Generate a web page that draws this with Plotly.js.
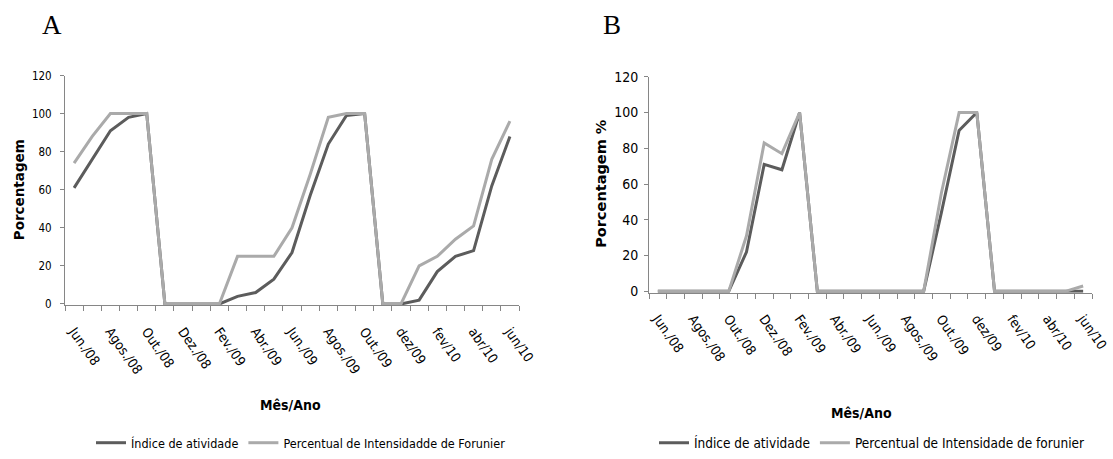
<!DOCTYPE html>
<html>
<head>
<meta charset="utf-8">
<script src="https://cdn.plot.ly/plotly-3.0.1.min.js"></script>
<style>
html,body{margin:0;padding:0;background:#fff;}
#chart{width:1113px;height:459px;}
</style>
</head>
<body>
<div id="chart"></div>
<script>
// Categories: months Jun/2008 .. Jun/2010
const months = ['Jun./08','Jul./08','Agos./08','Set./08','Out./08','Nov./08','Dez./08','Jan./09',
  'Fev./09','Mar./09','Abr./09','Mai./09','Jun./09','Jul./09','Agos./09','Set./09','Out./09',
  'Nov./09','dez/09','jan/10','fev/10','mar/10','abr/10','mai/10','jun/10'];

// Tick labels (every second month shown)
const tickTextA = ['Jun./08','','Agos./08','','Out./08','','Dez./08','','Fev./09','','Abr./09','',
  'Jun./09','','Agos./09','','Out./09','','dez/09','','fev/10','','abr/10','','jun/10'];
const tickTextB = ['Jun./08','','Agos./08','','Out./08','','Dez./08','','Fev./09','','Abr./09','',
  'Jun./09','','Agos./09','','Out./09','','dez/09','','fev/10','','abr/10','','jun/10'];

// Panel A values
const indiceA = [61,76,91,98,100,0,0,0,0,4,6,13,27,57,84,99,100,0,0,2,17,25,28,62,88];
const fournierA = [74,88,100,100,100,0,0,0,0,25,25,25,40,68,98,100,100,0,0,20,25,34,41,76,96];

// Panel B values
const indiceB = [0,0,0,0,0,22,71,68,100,0,0,0,0,0,0,0,44,90,100,0,0,0,0,0,0];
const fournierB = [0,0,0,0,0,31,83,77,100,0,0,0,0,0,0,0,55,100,100,0,0,0,0,0,3];

const nameIndice = 'Índice de atividade';
const nameFournierA = 'Percentual de Intensidadde de Forunier';
const nameFournierB = 'Percentual de Intensidade de forunier';

const DARK = '#5c5c5c', LIGHT = '#aaaaaa', AXIS = '#868686';
const NARROW = '"DejaVu Sans Condensed", "Liberation Sans Narrow", sans-serif';
const BOLD = '"DejaVu Sans", sans-serif';
const W = 1113, H = 459;
const px = v => v / W;
const py = v => (H - v) / H;

const traces = [
  {x: months, y: indiceA, name: nameIndice, type: 'scatter', mode: 'lines',
   line: {color: DARK, width: 3}, xaxis: 'x', yaxis: 'y', legend: 'legend'},
  {x: months, y: fournierA, name: nameFournierA, type: 'scatter', mode: 'lines',
   line: {color: LIGHT, width: 3}, xaxis: 'x', yaxis: 'y', legend: 'legend'},
  {x: months, y: indiceB, name: nameIndice, type: 'scatter', mode: 'lines',
   line: {color: DARK, width: 3}, xaxis: 'x2', yaxis: 'y2', legend: 'legend2'},
  {x: months, y: fournierB, name: nameFournierB, type: 'scatter', mode: 'lines',
   line: {color: LIGHT, width: 3}, xaxis: 'x2', yaxis: 'y2', legend: 'legend2'}
];

function xAxis(domain, anchor, ticktext, size) {
  return {
    domain: domain, anchor: anchor,
    type: 'category', categoryorder: 'array', categoryarray: months,
    range: [-0.5, 24.5], tickmode: 'array', tickvals: months, ticktext: ticktext,
    tickson: 'boundaries', ticks: 'outside', ticklen: 5, tickcolor: AXIS, tickwidth: 1,
    showline: true, linecolor: AXIS, linewidth: 1, showgrid: false, zeroline: false,
    tickangle: 55, ticklabelstandoff: 12,
    tickfont: {family: NARROW, size: size, color: '#000'}, fixedrange: true
  };
}
function yAxis(domain, anchor, size, standoff) {
  return {
    domain: domain, anchor: anchor, range: [-0.8, 120], tickmode: 'linear', tick0: 0, dtick: 20,
    ticks: 'outside', ticklen: 4, tickcolor: AXIS, tickwidth: 1,
    showline: true, linecolor: AXIS, linewidth: 1, showgrid: false, zeroline: false,
    tickfont: {family: NARROW, size: size, color: '#000'}, fixedrange: true, ticklabelstandoff: standoff
  };
}

const layout = {
  width: W, height: H, margin: {l: 0, r: 0, t: 0, b: 0},
  paper_bgcolor: '#fff', plot_bgcolor: '#fff', showlegend: true,
  xaxis: xAxis([px(65), px(519)], 'y', tickTextA, 13.5),
  yaxis: yAxis([py(307.5), py(76)], 'x', 11.5, 6),
  xaxis2: xAxis([px(649), px(1092)], 'y2', tickTextB, 13.5),
  yaxis2: yAxis([py(294.7), py(77.3)], 'x2', 14, 3),
  legend: {orientation: 'h', x: px(301), y: py(446), xanchor: 'center', yanchor: 'middle',
    font: {family: NARROW, size: 12.5, color: '#000'}, bgcolor: 'rgba(0,0,0,0)', itemwidth: 30},
  legend2: {orientation: 'h', x: px(872), y: py(446), xanchor: 'center', yanchor: 'middle',
    font: {family: NARROW, size: 13.5, color: '#000'}, bgcolor: 'rgba(0,0,0,0)', itemwidth: 30},
  annotations: [
    {text: 'A', xref: 'paper', yref: 'paper', x: px(40), y: py(25), xanchor: 'left', yanchor: 'middle',
     showarrow: false, font: {family: '"Liberation Serif", "Times New Roman", serif', size: 27, color: '#000'}},
    {text: 'B', xref: 'paper', yref: 'paper', x: px(601), y: py(25), xanchor: 'left', yanchor: 'middle',
     showarrow: false, font: {family: '"Liberation Serif", "Times New Roman", serif', size: 27, color: '#000'}},
    {text: '<b>Porcentagem</b>', xref: 'paper', yref: 'paper', x: px(18.5), y: py(191), xanchor: 'center', yanchor: 'middle',
     textangle: -90, showarrow: false, font: {family: BOLD, size: 13.5, color: '#000'}},
    {text: '<b>Porcentagem %</b>', xref: 'paper', yref: 'paper', x: px(601), y: py(185), xanchor: 'center', yanchor: 'middle',
     textangle: -90, showarrow: false, font: {family: BOLD, size: 14.5, color: '#000'}},
    {text: '<b>Mês/Ano</b>', xref: 'paper', yref: 'paper', x: px(290), y: py(408), xanchor: 'center', yanchor: 'middle',
     showarrow: false, font: {family: NARROW, size: 14, color: '#000'}},
    {text: '<b>Mês/Ano</b>', xref: 'paper', yref: 'paper', x: px(861), y: py(416), xanchor: 'center', yanchor: 'middle',
     showarrow: false, font: {family: NARROW, size: 14, color: '#000'}}
  ]
};

Plotly.newPlot('chart', traces, layout, {staticPlot: true, displayModeBar: false});
</script>
</body>
</html>
